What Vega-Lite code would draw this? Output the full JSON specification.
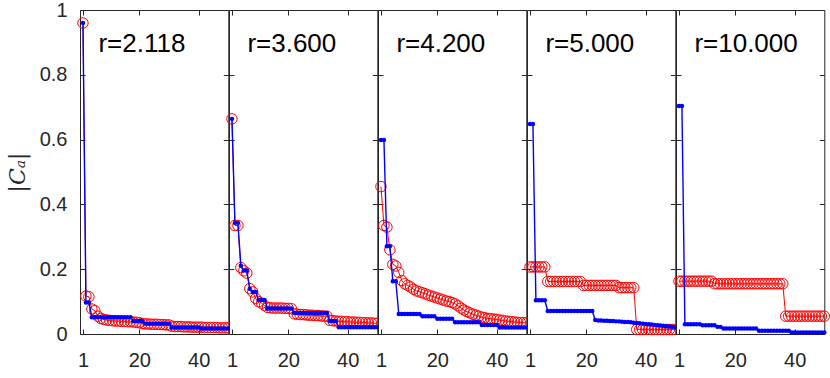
{
"$schema": "https://vega.github.io/schema/vega-lite/v6.json",
"background": "white",
"padding": {"left": 6, "top": 0, "right": 5, "bottom": 5},
"spacing": 0,
"bounds": "flush",
"config": {
 "view": {"stroke": null, "fill": "white"},
 "font": "Liberation Sans",
 "axis": {"domainColor": "#262626", "tickColor": "#262626", "labelColor": "#262626", "labelFontSize": 20, "labelFont": "Liberation Sans", "grid": false, "tickSize": -5, "domainWidth": 1, "tickWidth": 1, "labelFlush": false, "labelOverlap": false}
},
"datasets": {"d": [
{"p":1,"i":1,"r":0.96,"b":0.96},{"p":1,"i":2,"r":0.117,"b":0.097},{"p":1,"i":3,"r":0.115,"b":0.097},{"p":1,"i":4,"r":0.077,"b":0.052},{"p":1,"i":5,"r":0.072,"b":0.052},{"p":1,"i":6,"r":0.055,"b":0.052},{"p":1,"i":7,"r":0.048,"b":0.052},{"p":1,"i":8,"r":0.045,"b":0.052},{"p":1,"i":9,"r":0.043,"b":0.052},{"p":1,"i":10,"r":0.042,"b":0.052},
{"p":1,"i":11,"r":0.041,"b":0.052},{"p":1,"i":12,"r":0.04,"b":0.052},{"p":1,"i":13,"r":0.04,"b":0.052},{"p":1,"i":14,"r":0.039,"b":0.052},{"p":1,"i":15,"r":0.039,"b":0.052},{"p":1,"i":16,"r":0.038,"b":0.052},{"p":1,"i":17,"r":0.038,"b":0.052},{"p":1,"i":18,"r":0.037,"b":0.04},{"p":1,"i":19,"r":0.036,"b":0.04},{"p":1,"i":20,"r":0.035,"b":0.04},
{"p":1,"i":21,"r":0.032,"b":0.04},{"p":1,"i":22,"r":0.031,"b":0.032},{"p":1,"i":23,"r":0.031,"b":0.032},{"p":1,"i":24,"r":0.03,"b":0.032},{"p":1,"i":25,"r":0.03,"b":0.032},{"p":1,"i":26,"r":0.03,"b":0.032},{"p":1,"i":27,"r":0.029,"b":0.032},{"p":1,"i":28,"r":0.029,"b":0.032},{"p":1,"i":29,"r":0.028,"b":0.032},{"p":1,"i":30,"r":0.028,"b":0.032},
{"p":1,"i":31,"r":0.024,"b":0.02},{"p":1,"i":32,"r":0.023,"b":0.02},{"p":1,"i":33,"r":0.023,"b":0.02},{"p":1,"i":34,"r":0.023,"b":0.02},{"p":1,"i":35,"r":0.022,"b":0.02},{"p":1,"i":36,"r":0.022,"b":0.02},{"p":1,"i":37,"r":0.022,"b":0.02},{"p":1,"i":38,"r":0.021,"b":0.02},{"p":1,"i":39,"r":0.021,"b":0.02},{"p":1,"i":40,"r":0.021,"b":0.02},
{"p":1,"i":41,"r":0.021,"b":0.017},{"p":1,"i":42,"r":0.02,"b":0.017},{"p":1,"i":43,"r":0.02,"b":0.017},{"p":1,"i":44,"r":0.02,"b":0.017},{"p":1,"i":45,"r":0.02,"b":0.017},{"p":1,"i":46,"r":0.02,"b":0.017},{"p":1,"i":47,"r":0.019,"b":0.017},{"p":1,"i":48,"r":0.019,"b":0.017},{"p":1,"i":49,"r":0.019,"b":0.017},{"p":1,"i":50,"r":0.019,"b":0.017},
{"p":2,"i":1,"r":0.664,"b":0.664},{"p":2,"i":2,"r":0.335,"b":0.343},{"p":2,"i":3,"r":0.335,"b":0.343},{"p":2,"i":4,"r":0.205,"b":0.211},{"p":2,"i":5,"r":0.195,"b":0.196},{"p":2,"i":6,"r":0.188,"b":0.196},{"p":2,"i":7,"r":0.14,"b":0.14},{"p":2,"i":8,"r":0.13,"b":0.13},{"p":2,"i":9,"r":0.11,"b":0.13},{"p":2,"i":10,"r":0.1,"b":0.105},
{"p":2,"i":11,"r":0.095,"b":0.105},{"p":2,"i":12,"r":0.088,"b":0.105},{"p":2,"i":13,"r":0.082,"b":0.079},{"p":2,"i":14,"r":0.081,"b":0.079},{"p":2,"i":15,"r":0.08,"b":0.079},{"p":2,"i":16,"r":0.08,"b":0.079},{"p":2,"i":17,"r":0.08,"b":0.079},{"p":2,"i":18,"r":0.08,"b":0.079},{"p":2,"i":19,"r":0.079,"b":0.079},{"p":2,"i":20,"r":0.079,"b":0.079},
{"p":2,"i":21,"r":0.078,"b":0.079},{"p":2,"i":22,"r":0.062,"b":0.065},{"p":2,"i":23,"r":0.061,"b":0.065},{"p":2,"i":24,"r":0.06,"b":0.065},{"p":2,"i":25,"r":0.06,"b":0.065},{"p":2,"i":26,"r":0.059,"b":0.065},{"p":2,"i":27,"r":0.058,"b":0.065},{"p":2,"i":28,"r":0.058,"b":0.065},{"p":2,"i":29,"r":0.057,"b":0.065},{"p":2,"i":30,"r":0.057,"b":0.065},
{"p":2,"i":31,"r":0.056,"b":0.065},{"p":2,"i":32,"r":0.055,"b":0.065},{"p":2,"i":33,"r":0.055,"b":0.065},{"p":2,"i":34,"r":0.042,"b":0.04},{"p":2,"i":35,"r":0.041,"b":0.04},{"p":2,"i":36,"r":0.04,"b":0.04},{"p":2,"i":37,"r":0.039,"b":0.021},{"p":2,"i":38,"r":0.039,"b":0.021},{"p":2,"i":39,"r":0.038,"b":0.021},{"p":2,"i":40,"r":0.038,"b":0.021},
{"p":2,"i":41,"r":0.037,"b":0.021},{"p":2,"i":42,"r":0.037,"b":0.021},{"p":2,"i":43,"r":0.036,"b":0.021},{"p":2,"i":44,"r":0.036,"b":0.021},{"p":2,"i":45,"r":0.035,"b":0.021},{"p":2,"i":46,"r":0.035,"b":0.021},{"p":2,"i":47,"r":0.034,"b":0.021},{"p":2,"i":48,"r":0.034,"b":0.021},{"p":2,"i":49,"r":0.033,"b":0.021},{"p":2,"i":50,"r":0.033,"b":0.021},
{"p":3,"i":1,"r":0.455,"b":0.599},{"p":3,"i":2,"r":0.335,"b":0.599},{"p":3,"i":3,"r":0.33,"b":0.271},{"p":3,"i":4,"r":0.26,"b":0.271},{"p":3,"i":5,"r":0.215,"b":0.163},{"p":3,"i":6,"r":0.21,"b":0.163},{"p":3,"i":7,"r":0.19,"b":0.062},{"p":3,"i":8,"r":0.165,"b":0.062},{"p":3,"i":9,"r":0.155,"b":0.062},{"p":3,"i":10,"r":0.15,"b":0.062},
{"p":3,"i":11,"r":0.145,"b":0.062},{"p":3,"i":12,"r":0.138,"b":0.062},{"p":3,"i":13,"r":0.133,"b":0.062},{"p":3,"i":14,"r":0.13,"b":0.062},{"p":3,"i":15,"r":0.127,"b":0.055},{"p":3,"i":16,"r":0.124,"b":0.055},{"p":3,"i":17,"r":0.12,"b":0.055},{"p":3,"i":18,"r":0.117,"b":0.055},{"p":3,"i":19,"r":0.114,"b":0.055},{"p":3,"i":20,"r":0.111,"b":0.047},
{"p":3,"i":21,"r":0.108,"b":0.047},{"p":3,"i":22,"r":0.105,"b":0.047},{"p":3,"i":23,"r":0.102,"b":0.047},{"p":3,"i":24,"r":0.1,"b":0.047},{"p":3,"i":25,"r":0.097,"b":0.047},{"p":3,"i":26,"r":0.093,"b":0.036},{"p":3,"i":27,"r":0.087,"b":0.036},{"p":3,"i":28,"r":0.08,"b":0.036},{"p":3,"i":29,"r":0.074,"b":0.036},{"p":3,"i":30,"r":0.069,"b":0.036},
{"p":3,"i":31,"r":0.065,"b":0.036},{"p":3,"i":32,"r":0.061,"b":0.036},{"p":3,"i":33,"r":0.058,"b":0.036},{"p":3,"i":34,"r":0.055,"b":0.036},{"p":3,"i":35,"r":0.052,"b":0.028},{"p":3,"i":36,"r":0.05,"b":0.028},{"p":3,"i":37,"r":0.048,"b":0.028},{"p":3,"i":38,"r":0.047,"b":0.028},{"p":3,"i":39,"r":0.046,"b":0.028},{"p":3,"i":40,"r":0.045,"b":0.028},
{"p":3,"i":41,"r":0.043,"b":0.02},{"p":3,"i":42,"r":0.042,"b":0.02},{"p":3,"i":43,"r":0.04,"b":0.02},{"p":3,"i":44,"r":0.039,"b":0.02},{"p":3,"i":45,"r":0.038,"b":0.02},{"p":3,"i":46,"r":0.037,"b":0.02},{"p":3,"i":47,"r":0.036,"b":0.02},{"p":3,"i":48,"r":0.035,"b":0.02},{"p":3,"i":49,"r":0.035,"b":0.02},{"p":3,"i":50,"r":0.034,"b":0.02},
{"p":4,"i":1,"r":0.207,"b":0.648},{"p":4,"i":2,"r":0.207,"b":0.648},{"p":4,"i":3,"r":0.207,"b":0.104},{"p":4,"i":4,"r":0.207,"b":0.104},{"p":4,"i":5,"r":0.207,"b":0.104},{"p":4,"i":6,"r":0.207,"b":0.104},{"p":4,"i":7,"r":0.162,"b":0.071},{"p":4,"i":8,"r":0.162,"b":0.071},{"p":4,"i":9,"r":0.162,"b":0.071},{"p":4,"i":10,"r":0.162,"b":0.071},
{"p":4,"i":11,"r":0.162,"b":0.071},{"p":4,"i":12,"r":0.162,"b":0.071},{"p":4,"i":13,"r":0.162,"b":0.071},{"p":4,"i":14,"r":0.162,"b":0.071},{"p":4,"i":15,"r":0.162,"b":0.071},{"p":4,"i":16,"r":0.162,"b":0.071},{"p":4,"i":17,"r":0.162,"b":0.071},{"p":4,"i":18,"r":0.162,"b":0.071},{"p":4,"i":19,"r":0.15,"b":0.071},{"p":4,"i":20,"r":0.15,"b":0.071},
{"p":4,"i":21,"r":0.15,"b":0.071},{"p":4,"i":22,"r":0.15,"b":0.071},{"p":4,"i":23,"r":0.15,"b":0.043},{"p":4,"i":24,"r":0.15,"b":0.042},{"p":4,"i":25,"r":0.15,"b":0.042},{"p":4,"i":26,"r":0.15,"b":0.041},{"p":4,"i":27,"r":0.15,"b":0.041},{"p":4,"i":28,"r":0.15,"b":0.04},{"p":4,"i":29,"r":0.15,"b":0.04},{"p":4,"i":30,"r":0.15,"b":0.039},
{"p":4,"i":31,"r":0.143,"b":0.039},{"p":4,"i":32,"r":0.143,"b":0.038},{"p":4,"i":33,"r":0.143,"b":0.037},{"p":4,"i":34,"r":0.143,"b":0.037},{"p":4,"i":35,"r":0.143,"b":0.036},{"p":4,"i":36,"r":0.143,"b":0.035},{"p":4,"i":37,"r":0.014,"b":0.034},{"p":4,"i":38,"r":0.014,"b":0.033},{"p":4,"i":39,"r":0.014,"b":0.032},{"p":4,"i":40,"r":0.014,"b":0.031},
{"p":4,"i":41,"r":0.014,"b":0.03},{"p":4,"i":42,"r":0.014,"b":0.029},{"p":4,"i":43,"r":0.014,"b":0.028},{"p":4,"i":44,"r":0.014,"b":0.027},{"p":4,"i":45,"r":0.014,"b":0.026},{"p":4,"i":46,"r":0.014,"b":0.025},{"p":4,"i":47,"r":0.014,"b":0.024},{"p":4,"i":48,"r":0.014,"b":0.023},{"p":4,"i":49,"r":0.014,"b":0.022},{"p":4,"i":50,"r":0.014,"b":0.021},
{"p":5,"i":1,"r":0.163,"b":0.704},{"p":5,"i":2,"r":0.163,"b":0.704},{"p":5,"i":3,"r":0.163,"b":0.03},{"p":5,"i":4,"r":0.163,"b":0.03},{"p":5,"i":5,"r":0.163,"b":0.03},{"p":5,"i":6,"r":0.163,"b":0.03},{"p":5,"i":7,"r":0.163,"b":0.03},{"p":5,"i":8,"r":0.163,"b":0.03},{"p":5,"i":9,"r":0.163,"b":0.027},{"p":5,"i":10,"r":0.163,"b":0.027},
{"p":5,"i":11,"r":0.163,"b":0.027},{"p":5,"i":12,"r":0.163,"b":0.027},{"p":5,"i":13,"r":0.155,"b":0.027},{"p":5,"i":14,"r":0.155,"b":0.022},{"p":5,"i":15,"r":0.155,"b":0.022},{"p":5,"i":16,"r":0.155,"b":0.017},{"p":5,"i":17,"r":0.155,"b":0.017},{"p":5,"i":18,"r":0.155,"b":0.017},{"p":5,"i":19,"r":0.155,"b":0.017},{"p":5,"i":20,"r":0.155,"b":0.017},
{"p":5,"i":21,"r":0.155,"b":0.017},{"p":5,"i":22,"r":0.155,"b":0.017},{"p":5,"i":23,"r":0.155,"b":0.017},{"p":5,"i":24,"r":0.155,"b":0.017},{"p":5,"i":25,"r":0.155,"b":0.017},{"p":5,"i":26,"r":0.155,"b":0.017},{"p":5,"i":27,"r":0.155,"b":0.017},{"p":5,"i":28,"r":0.155,"b":0.01},{"p":5,"i":29,"r":0.155,"b":0.01},{"p":5,"i":30,"r":0.155,"b":0.01},
{"p":5,"i":31,"r":0.155,"b":0.01},{"p":5,"i":32,"r":0.155,"b":0.01},{"p":5,"i":33,"r":0.155,"b":0.01},{"p":5,"i":34,"r":0.155,"b":0.01},{"p":5,"i":35,"r":0.155,"b":0.01},{"p":5,"i":36,"r":0.155,"b":0.01},{"p":5,"i":37,"r":0.055,"b":0.01},{"p":5,"i":38,"r":0.055,"b":0.01},{"p":5,"i":39,"r":0.055,"b":0.005},{"p":5,"i":40,"r":0.055,"b":0.005},
{"p":5,"i":41,"r":0.055,"b":0.005},{"p":5,"i":42,"r":0.055,"b":0.005},{"p":5,"i":43,"r":0.055,"b":0.005},{"p":5,"i":44,"r":0.055,"b":0.005},{"p":5,"i":45,"r":0.055,"b":0.005},{"p":5,"i":46,"r":0.055,"b":0.005},{"p":5,"i":47,"r":0.055,"b":0.005},{"p":5,"i":48,"r":0.055,"b":0.005},{"p":5,"i":49,"r":0.055,"b":0.005},{"p":5,"i":50,"r":0.055,"b":0.005}
],
"labels": [
{"p":1,"t":"r=2.118"},{"p":2,"t":"r=3.600"},{"p":3,"t":"r=4.200"},{"p":4,"t":"r=5.000"},{"p":5,"t":"r=10.000"}
]},
"hconcat": [
{"width": 148.3, "height": 324,
 "layer": [
  {"data": {"name": "d"}, "transform": [{"filter": "datum.p == 1"}], "mark": {"type": "line", "color": "#ff0000", "strokeWidth": 1},
   "encoding": {"x": {"field": "i", "type": "quantitative", "scale": {"domain": [0, 50]}, "axis": {"orient": "bottom", "values": [1, 20, 40], "title": null, "labelPadding": 21}},
    "y": {"field": "r", "type": "quantitative", "scale": {"domain": [0, 1]}, "axis": {"orient": "left", "values": [0, 0.2, 0.4, 0.6, 0.8, 1], "format": "~g", "labelPadding": 18, "title": "|Cₐ|", "titleFont": "DejaVu Serif", "titleFontStyle": "italic", "titleFontWeight": "normal", "titleFontSize": 22, "titleColor": "#262626", "titlePadding": 10}}}},
  {"data": {"name": "d"}, "transform": [{"filter": "datum.p == 1"}], "mark": {"type": "point", "shape": "circle", "filled": false, "color": "#ff0000", "size": 110, "strokeWidth": 1, "opacity": 1},
   "encoding": {"x": {"field": "i", "type": "quantitative", "axis": {"orient": "top", "values": [1, 20, 40], "labels": false, "title": null}},
    "y": {"field": "r", "type": "quantitative", "axis": {"orient": "right", "values": [0, 0.2, 0.4, 0.6, 0.8, 1], "labels": false, "title": null}}}},
  {"data": {"name": "d"}, "transform": [{"filter": "datum.p == 1"}], "mark": {"type": "line", "color": "#0000ff", "strokeWidth": 1.4},
   "encoding": {"x": {"field": "i", "type": "quantitative", "axis": null}, "y": {"field": "b", "type": "quantitative", "axis": null}}},
  {"data": {"name": "d"}, "transform": [{"filter": "datum.p == 1"}], "mark": {"type": "circle", "color": "#0000ff", "size": 20, "opacity": 1},
   "encoding": {"x": {"field": "i", "type": "quantitative", "axis": null}, "y": {"field": "b", "type": "quantitative", "axis": null}}},
  {"data": {"name": "labels"}, "transform": [{"filter": "datum.p == 1"}], "mark": {"type": "text", "align": "left", "baseline": "alphabetic", "fontSize": 26, "font": "Liberation Sans", "color": "#000000"},
   "encoding": {"x": {"datum": 6.2, "type": "quantitative", "axis": null}, "y": {"datum": 0.871, "type": "quantitative", "axis": null}, "text": {"field": "t"}}}
 ],
 "resolve": {"axis": {"x": "independent", "y": "independent"}}
},
{"width": 148.3, "height": 324,
 "layer": [
  {"data": {"name": "d"}, "transform": [{"filter": "datum.p == 2"}], "mark": {"type": "line", "color": "#ff0000", "strokeWidth": 1},
   "encoding": {"x": {"field": "i", "type": "quantitative", "scale": {"domain": [0, 50]}, "axis": {"orient": "bottom", "values": [1, 20, 40], "title": null, "labelPadding": 21}},
    "y": {"field": "r", "type": "quantitative", "scale": {"domain": [0, 1]}, "axis": {"orient": "left", "values": [0, 0.2, 0.4, 0.6, 0.8, 1], "labels": false, "title": null}}}},
  {"data": {"name": "d"}, "transform": [{"filter": "datum.p == 2"}], "mark": {"type": "point", "shape": "circle", "filled": false, "color": "#ff0000", "size": 110, "strokeWidth": 1, "opacity": 1},
   "encoding": {"x": {"field": "i", "type": "quantitative", "axis": {"orient": "top", "values": [1, 20, 40], "labels": false, "title": null}},
    "y": {"field": "r", "type": "quantitative", "axis": {"orient": "right", "values": [0, 0.2, 0.4, 0.6, 0.8, 1], "labels": false, "title": null}}}},
  {"data": {"name": "d"}, "transform": [{"filter": "datum.p == 2"}], "mark": {"type": "line", "color": "#0000ff", "strokeWidth": 1.4},
   "encoding": {"x": {"field": "i", "type": "quantitative", "axis": null}, "y": {"field": "b", "type": "quantitative", "axis": null}}},
  {"data": {"name": "d"}, "transform": [{"filter": "datum.p == 2"}], "mark": {"type": "circle", "color": "#0000ff", "size": 20, "opacity": 1},
   "encoding": {"x": {"field": "i", "type": "quantitative", "axis": null}, "y": {"field": "b", "type": "quantitative", "axis": null}}},
  {"data": {"name": "labels"}, "transform": [{"filter": "datum.p == 2"}], "mark": {"type": "text", "align": "left", "baseline": "alphabetic", "fontSize": 26, "font": "Liberation Sans", "color": "#000000"},
   "encoding": {"x": {"datum": 6.2, "type": "quantitative", "axis": null}, "y": {"datum": 0.871, "type": "quantitative", "axis": null}, "text": {"field": "t"}}}
 ],
 "resolve": {"axis": {"x": "independent", "y": "independent"}}
},
{"width": 148.3, "height": 324,
 "layer": [
  {"data": {"name": "d"}, "transform": [{"filter": "datum.p == 3"}], "mark": {"type": "line", "color": "#ff0000", "strokeWidth": 1},
   "encoding": {"x": {"field": "i", "type": "quantitative", "scale": {"domain": [0, 50]}, "axis": {"orient": "bottom", "values": [1, 20, 40], "title": null, "labelPadding": 21}},
    "y": {"field": "r", "type": "quantitative", "scale": {"domain": [0, 1]}, "axis": {"orient": "left", "values": [0, 0.2, 0.4, 0.6, 0.8, 1], "labels": false, "title": null}}}},
  {"data": {"name": "d"}, "transform": [{"filter": "datum.p == 3"}], "mark": {"type": "point", "shape": "circle", "filled": false, "color": "#ff0000", "size": 110, "strokeWidth": 1, "opacity": 1},
   "encoding": {"x": {"field": "i", "type": "quantitative", "axis": {"orient": "top", "values": [1, 20, 40], "labels": false, "title": null}},
    "y": {"field": "r", "type": "quantitative", "axis": {"orient": "right", "values": [0, 0.2, 0.4, 0.6, 0.8, 1], "labels": false, "title": null}}}},
  {"data": {"name": "d"}, "transform": [{"filter": "datum.p == 3"}], "mark": {"type": "line", "color": "#0000ff", "strokeWidth": 1.4},
   "encoding": {"x": {"field": "i", "type": "quantitative", "axis": null}, "y": {"field": "b", "type": "quantitative", "axis": null}}},
  {"data": {"name": "d"}, "transform": [{"filter": "datum.p == 3"}], "mark": {"type": "circle", "color": "#0000ff", "size": 20, "opacity": 1},
   "encoding": {"x": {"field": "i", "type": "quantitative", "axis": null}, "y": {"field": "b", "type": "quantitative", "axis": null}}},
  {"data": {"name": "labels"}, "transform": [{"filter": "datum.p == 3"}], "mark": {"type": "text", "align": "left", "baseline": "alphabetic", "fontSize": 26, "font": "Liberation Sans", "color": "#000000"},
   "encoding": {"x": {"datum": 6.2, "type": "quantitative", "axis": null}, "y": {"datum": 0.871, "type": "quantitative", "axis": null}, "text": {"field": "t"}}}
 ],
 "resolve": {"axis": {"x": "independent", "y": "independent"}}
},
{"width": 148.3, "height": 324,
 "layer": [
  {"data": {"name": "d"}, "transform": [{"filter": "datum.p == 4"}], "mark": {"type": "line", "color": "#ff0000", "strokeWidth": 1},
   "encoding": {"x": {"field": "i", "type": "quantitative", "scale": {"domain": [0, 50]}, "axis": {"orient": "bottom", "values": [1, 20, 40], "title": null, "labelPadding": 21}},
    "y": {"field": "r", "type": "quantitative", "scale": {"domain": [0, 1]}, "axis": {"orient": "left", "values": [0, 0.2, 0.4, 0.6, 0.8, 1], "labels": false, "title": null}}}},
  {"data": {"name": "d"}, "transform": [{"filter": "datum.p == 4"}], "mark": {"type": "point", "shape": "circle", "filled": false, "color": "#ff0000", "size": 110, "strokeWidth": 1, "opacity": 1},
   "encoding": {"x": {"field": "i", "type": "quantitative", "axis": {"orient": "top", "values": [1, 20, 40], "labels": false, "title": null}},
    "y": {"field": "r", "type": "quantitative", "axis": {"orient": "right", "values": [0, 0.2, 0.4, 0.6, 0.8, 1], "labels": false, "title": null}}}},
  {"data": {"name": "d"}, "transform": [{"filter": "datum.p == 4"}], "mark": {"type": "line", "color": "#0000ff", "strokeWidth": 1.4},
   "encoding": {"x": {"field": "i", "type": "quantitative", "axis": null}, "y": {"field": "b", "type": "quantitative", "axis": null}}},
  {"data": {"name": "d"}, "transform": [{"filter": "datum.p == 4"}], "mark": {"type": "circle", "color": "#0000ff", "size": 20, "opacity": 1},
   "encoding": {"x": {"field": "i", "type": "quantitative", "axis": null}, "y": {"field": "b", "type": "quantitative", "axis": null}}},
  {"data": {"name": "labels"}, "transform": [{"filter": "datum.p == 4"}], "mark": {"type": "text", "align": "left", "baseline": "alphabetic", "fontSize": 26, "font": "Liberation Sans", "color": "#000000"},
   "encoding": {"x": {"datum": 6.2, "type": "quantitative", "axis": null}, "y": {"datum": 0.871, "type": "quantitative", "axis": null}, "text": {"field": "t"}}}
 ],
 "resolve": {"axis": {"x": "independent", "y": "independent"}}
},
{"width": 148.3, "height": 324,
 "layer": [
  {"data": {"name": "d"}, "transform": [{"filter": "datum.p == 5"}], "mark": {"type": "line", "color": "#ff0000", "strokeWidth": 1},
   "encoding": {"x": {"field": "i", "type": "quantitative", "scale": {"domain": [0, 50]}, "axis": {"orient": "bottom", "values": [1, 20, 40], "title": null, "labelPadding": 21}},
    "y": {"field": "r", "type": "quantitative", "scale": {"domain": [0, 1]}, "axis": {"orient": "left", "values": [0, 0.2, 0.4, 0.6, 0.8, 1], "labels": false, "title": null}}}},
  {"data": {"name": "d"}, "transform": [{"filter": "datum.p == 5"}], "mark": {"type": "point", "shape": "circle", "filled": false, "color": "#ff0000", "size": 110, "strokeWidth": 1, "opacity": 1},
   "encoding": {"x": {"field": "i", "type": "quantitative", "axis": {"orient": "top", "values": [1, 20, 40], "labels": false, "title": null}},
    "y": {"field": "r", "type": "quantitative", "axis": {"orient": "right", "values": [0, 0.2, 0.4, 0.6, 0.8, 1], "labels": false, "title": null}}}},
  {"data": {"name": "d"}, "transform": [{"filter": "datum.p == 5"}], "mark": {"type": "line", "color": "#0000ff", "strokeWidth": 1.4},
   "encoding": {"x": {"field": "i", "type": "quantitative", "axis": null}, "y": {"field": "b", "type": "quantitative", "axis": null}}},
  {"data": {"name": "d"}, "transform": [{"filter": "datum.p == 5"}], "mark": {"type": "circle", "color": "#0000ff", "size": 20, "opacity": 1},
   "encoding": {"x": {"field": "i", "type": "quantitative", "axis": null}, "y": {"field": "b", "type": "quantitative", "axis": null}}},
  {"data": {"name": "labels"}, "transform": [{"filter": "datum.p == 5"}], "mark": {"type": "text", "align": "left", "baseline": "alphabetic", "fontSize": 26, "font": "Liberation Sans", "color": "#000000"},
   "encoding": {"x": {"datum": 6.2, "type": "quantitative", "axis": null}, "y": {"datum": 0.871, "type": "quantitative", "axis": null}, "text": {"field": "t"}}}
 ],
 "resolve": {"axis": {"x": "independent", "y": "independent"}}
}
]
}
